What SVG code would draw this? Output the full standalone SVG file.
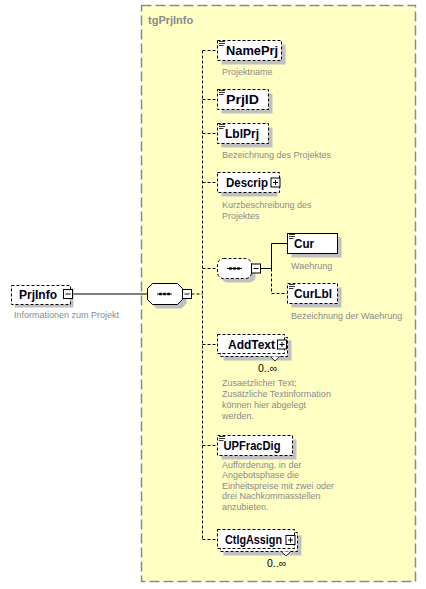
<svg xmlns="http://www.w3.org/2000/svg" width="426" height="589" viewBox="0 0 426 589">
<style>
.bg{fill:#ffffff}
.grp{fill:#ffffc4;stroke:#8a8a8a;stroke-width:1.5;stroke-dasharray:10 4}
.sh{fill:#c0c0c0;stroke:none}
.opt{fill:#ffffff;stroke:#000;stroke-width:1;stroke-dasharray:3 2}
.req{fill:#ffffff;stroke:#000;stroke-width:1}
.pm{fill:#ffffff;stroke:#000;stroke-width:1}
.name{font-family:"Liberation Sans",Arial,sans-serif;font-weight:bold;font-size:13px;fill:#000014}
.desc{font-family:"Liberation Sans",Arial,sans-serif;font-size:9px;fill:#8a8a8a}
.occ{font-family:"Liberation Sans",Arial,sans-serif;font-size:10.5px;fill:#000}
.title{font-family:"Liberation Sans",Arial,sans-serif;font-weight:bold;font-size:11px;fill:#8a8a8a}
.cs{fill:none;stroke:#000;stroke-width:1}
.cd{fill:none;stroke:#000;stroke-width:1;stroke-dasharray:3 2}
.ic{stroke:#000;stroke-width:0.8}
</style>
<defs>
<g id="icon"><line class="ic" x1="0" y1="0.5" x2="6" y2="0.5"/><line class="ic" x1="0" y1="2.5" x2="6" y2="2.5"/><line class="ic" x1="0" y1="4.5" x2="4.5" y2="4.5"/></g>
<g id="minus"><rect class="pm" x="0" y="0" width="9" height="9"/><line class="cs" x1="2" y1="4.5" x2="7" y2="4.5"/></g>
<g id="plus"><rect class="pm" x="0" y="0" width="9" height="9"/><line class="cs" x1="2" y1="4.5" x2="7" y2="4.5"/><line class="cs" x1="4.5" y1="2" x2="4.5" y2="7"/></g>
<g id="seqdots"><line class="cs" x1="-7.5" y1="0" x2="7.5" y2="0"/><rect x="-5.25" y="-1.25" width="2.5" height="2.5" fill="#000"/><rect x="-1.25" y="-1.25" width="2.5" height="2.5" fill="#000"/><rect x="2.75" y="-1.25" width="2.5" height="2.5" fill="#000"/></g>
</defs>
<rect class="bg" x="0" y="0" width="426" height="589"/>

<g id="group-tgPrjInfo">
<rect class="grp" x="141.5" y="5.5" width="274" height="576"/>
<text class="title" x="148" y="24">tgPrjInfo</text>
</g>

<g id="connectors">
<line class="cs" x1="72.5" y1="294" x2="147.5" y2="294"/>
<line class="cd" x1="191.5" y1="294" x2="202.5" y2="294"/>
<line class="cd" x1="202.5" y1="50.5" x2="202.5" y2="539.5"/>
<line class="cd" x1="202.5" y1="50.5" x2="217.5" y2="50.5"/>
<line class="cd" x1="202.5" y1="99.5" x2="217.5" y2="99.5"/>
<line class="cd" x1="202.5" y1="133.5" x2="217.5" y2="133.5"/>
<line class="cd" x1="202.5" y1="182.5" x2="217.5" y2="182.5"/>
<line class="cd" x1="202.5" y1="268.5" x2="217.5" y2="268.5"/>
<line class="cd" x1="202.5" y1="344.5" x2="217.5" y2="344.5"/>
<line class="cd" x1="202.5" y1="445.5" x2="217.5" y2="445.5"/>
<line class="cd" x1="202.5" y1="539.5" x2="217.5" y2="539.5"/>
<line class="cs" x1="260.5" y1="268.5" x2="271.5" y2="268.5"/>
<polyline class="cs" points="271.5,268.5 271.5,243.5 287.5,243.5"/>
<polyline class="cd" points="271.5,268.5 271.5,293.5 287.5,293.5"/>
</g>

<g id="n-PrjInfo">
<rect class="sh" x="14.5" y="288.5" width="59" height="19"/>
<rect class="opt" x="11.5" y="285.5" width="59" height="19"/>
<text class="name" x="19" y="299" textLength="38" lengthAdjust="spacingAndGlyphs">PrjInfo</text>
<use href="#minus" x="63.5" y="289.5"/>
<text class="desc" x="14" y="318">Informationen zum Projekt</text>
</g>

<g id="n-seq-main">
<polygon class="sh" points="156.5,287.5 181.5,287.5 186.5,292.5 186.5,303.5 181.5,308.5 156.5,308.5 151.5,303.5 151.5,292.5"/>
<polygon class="req" points="152.5,283.5 177.5,283.5 182.5,288.5 182.5,299.5 177.5,304.5 152.5,304.5 147.5,299.5 147.5,288.5"/>
<use href="#seqdots" x="164.5" y="294"/>
<use href="#minus" x="182.5" y="289.5"/>
</g>

<g id="n-NamePrj">
<rect class="sh" x="221.5" y="44.5" width="64" height="20"/>
<rect class="opt" x="217.5" y="40.5" width="64" height="20"/>
<use href="#icon" x="219" y="41"/>
<text class="name" x="226" y="55" textLength="52" lengthAdjust="spacingAndGlyphs">NamePrj</text>
<text class="desc" x="222" y="75">Projektname</text>
</g>

<g id="n-PrjID">
<rect class="sh" x="221.5" y="93.5" width="51" height="20"/>
<rect class="opt" x="217.5" y="89.5" width="51" height="20"/>
<use href="#icon" x="219" y="90"/>
<text class="name" x="226" y="104" textLength="33" lengthAdjust="spacingAndGlyphs">PrjID</text>
</g>

<g id="n-LblPrj">
<rect class="sh" x="221.5" y="127.5" width="51" height="20"/>
<rect class="opt" x="217.5" y="123.5" width="51" height="20"/>
<use href="#icon" x="219" y="124"/>
<text class="name" x="225" y="138" textLength="34" lengthAdjust="spacingAndGlyphs">LblPrj</text>
<text class="desc" x="222" y="157.5">Bezeichnung des Projektes</text>
</g>

<g id="n-Descrip">
<rect class="sh" x="221.5" y="176.5" width="56" height="20"/>
<rect class="opt" x="217.5" y="172.5" width="62" height="20"/>
<text class="name" x="226" y="187" textLength="42" lengthAdjust="spacingAndGlyphs">Descrip</text>
<use href="#plus" x="271" y="178"/>
<text class="desc" x="222" y="208">Kurzbeschreibung des</text>
<text class="desc" x="222" y="219">Projektes</text>
</g>

<g id="n-seq-cur">
<rect class="sh" x="221.5" y="262.5" width="34" height="20" rx="6"/>
<rect class="opt" x="217.5" y="258.5" width="34" height="20" rx="6"/>
<use href="#seqdots" x="234.5" y="268.5"/>
<use href="#minus" x="251.5" y="264"/>
</g>

<g id="n-Cur">
<rect class="sh" x="291.5" y="237.5" width="50" height="20"/>
<rect class="req" x="287.5" y="233.5" width="50" height="20"/>
<use href="#icon" x="289" y="234"/>
<text class="name" x="294" y="248" textLength="20" lengthAdjust="spacingAndGlyphs">Cur</text>
<text class="desc" x="291" y="269">Waehrung</text>
</g>

<g id="n-CurLbl">
<rect class="sh" x="291.5" y="287.5" width="50" height="20"/>
<rect class="opt" x="287.5" y="283.5" width="50" height="20"/>
<use href="#icon" x="289" y="284"/>
<text class="name" x="294" y="298" textLength="38" lengthAdjust="spacingAndGlyphs">CurLbl</text>
<text class="desc" x="291" y="319">Bezeichnung der Waehrung</text>
</g>

<g id="n-AddText">
<rect class="sh" x="223.5" y="340.5" width="68" height="20"/>
<rect class="opt" x="220.5" y="337.5" width="67" height="19"/>
<rect class="opt" x="217.5" y="334.5" width="67" height="19"/>
<polyline fill="#fff" stroke="#000" stroke-width="0.8" points="270.5,356.5 275,361 279.5,356.5"/>
<text class="name" x="228" y="349" textLength="47" lengthAdjust="spacingAndGlyphs">AddText</text>
<use href="#plus" x="277.5" y="340"/>
<text class="occ" x="258" y="372">0..∞</text>
<text class="desc" x="222" y="386">Zusaetzlicher Text;</text>
<text class="desc" x="222" y="397">Zusätzliche Textinformation</text>
<text class="desc" x="222" y="408">können hier abgelegt</text>
<text class="desc" x="222" y="419">werden.</text>
</g>

<g id="n-UPFracDig">
<rect class="sh" x="221.5" y="439.5" width="75" height="20"/>
<rect class="opt" x="217.5" y="435.5" width="75" height="20"/>
<use href="#icon" x="219" y="436"/>
<text class="name" x="223.5" y="450" textLength="57" lengthAdjust="spacingAndGlyphs">UPFracDig</text>
<text class="desc" x="222" y="467.5">Aufforderung, in der</text>
<text class="desc" x="222" y="478">Angebotsphase die</text>
<text class="desc" x="222" y="488.5">Einheitspreise mit zwei oder</text>
<text class="desc" x="222" y="499">drei Nachkommasstellen</text>
<text class="desc" x="222" y="509.5">anzubieten.</text>
</g>

<g id="n-CtlgAssign">
<rect class="sh" x="223.5" y="535.5" width="78" height="20"/>
<rect class="opt" x="220.5" y="532.5" width="77" height="19"/>
<rect class="opt" x="217.5" y="529.5" width="77" height="19"/>
<polyline fill="#fff" stroke="#000" stroke-width="0.8" points="281.5,551.5 286,556 290.5,551.5"/>
<text class="name" x="225" y="544" textLength="57" lengthAdjust="spacingAndGlyphs">CtlgAssign</text>
<use href="#plus" x="286" y="535.5"/>
<text class="occ" x="267" y="567">0..∞</text>
</g>
</svg>
